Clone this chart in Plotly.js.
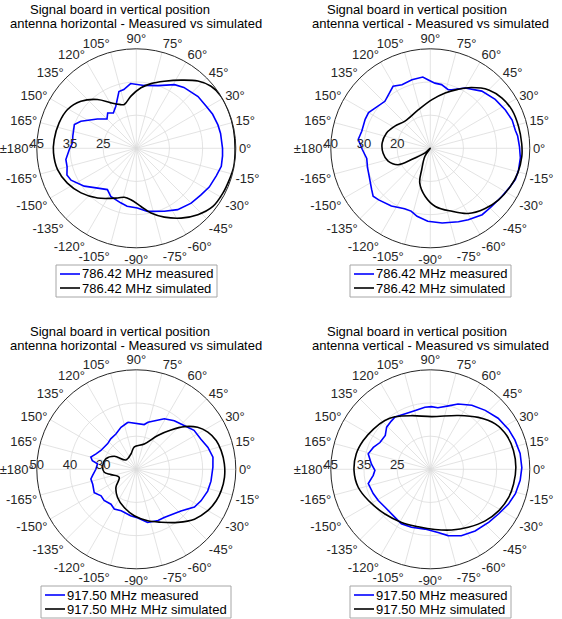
<!DOCTYPE html>
<html>
<head>
<meta charset="utf-8">
<script src="https://cdn.plot.ly/plotly-3.0.1.min.js"></script>
<style>html,body{margin:0;padding:0;background:#fff}#chart{width:562px;height:619px}</style>
</head>
<body>
<div id="chart"></div>
<script>
// ---------- Data (dB values) ----------
const titleLine1 = "Signal board in vertical position";
const titles2 = ["antenna horizontal - Measured vs simulated", "antenna vertical - Measured vs simulated",
                 "antenna horizontal - Measured vs simulated", "antenna vertical - Measured vs simulated"];
const measuredNames = ["786.42 MHz measured", "786.42 MHz measured", "917.50 MHz measured", "917.50 MHz measured"];
const simulatedNames = ["786.42 MHz simulated", "786.42 MHz simulated", "917.50 MHz MHz simulated", "917.50 MHz simulated"];
const rRanges = [[15, 45], [10, 40], [20, 50], [15, 45]];
const rTicks = [[25, 35, 45], [20, 30, 40], [30, 40, 50], [25, 35, 45]];
const angleTicks = [0,15,30,45,60,75,90,105,120,135,150,165,180,195,210,225,240,255,270,285,300,315,330,345];
const angleLabels = ["0°","15°","30°","45°","60°","75°","90°","105°","120°","135°","150°","165°","±180°",
                     "-165°","-150°","-135°","-120°","-105°","-90°","-75°","-60°","-45°","-30°","-15°"];

// Plot 1: 786.42 MHz, antenna horizontal
const meas1Theta = [0,-5,-12,-19,-28,-36,-45,-56,-66,-80,-89,-99,-106,-118,-125,-134,-144,-154,-159,-165,-171,-179,175,169,159,154,143,135,129,123,116,107,102,95,83,71,59,52,40,31,24,16,10,0];
const meas1R = [41.0,41.1,41.2,40.5,39.9,39.0,38.4,37.3,35.8,34.3,33.0,32.7,32.1,31.4,30.2,31.7,34.4,36.9,37.4,36.6,36.5,35.2,34.3,34.5,35.0,33.6,29.7,27.5,28.7,27.7,29.1,32.9,33.1,34.6,34.1,35.0,37.4,38.3,39.3,39.6,40.2,40.6,40.8,41.0];
const sim1Theta = [0,-10.5,-18.6,-27.4,-37.2,-47.2,-57.3,-67.8,-77.2,-85.4,-96,-103.8,-110.6,-127.9,-141.1,-153.2,-164.8,-176.8,174,161.8,150.6,139.7,128.5,119.2,111.3,105.4,95.9,85.6,77.2,67.3,56.7,47.5,39.7,31.6,20.8,10.9,0];
const sim1R = [44.8,44.9,44.6,44.4,44.0,42.3,40.0,37.4,35.0,32.6,30.6,30.2,31.0,34.0,36.4,38.3,39.6,40.0,39.9,39.5,38.8,36.9,33.8,30.7,29.2,28.7,30.8,33.3,35.0,36.9,39.6,42.5,44.3,45.0,45.0,44.9,44.8];

// Plot 2: 786.42 MHz, antenna vertical
const meas2Theta = [70,60,48,37,27,19,12,8,1,-6,-14,-20,-26,-34,-43,-52,-62,-69,-81,-92,-101,-107,-113,-124,-135,-140,-145,-153,-163,-171,-179,173,166,156,150,144,134,121,114,105,96,92,86,80,73,70];
const meas2R = [28.8,31.0,33.2,34.5,35.4,36.1,36.2,36.6,36.9,37.3,37.4,37.3,36.7,36.0,35.5,35.4,34.4,33.7,32.8,32.0,30.9,29.8,29.8,31.0,32.0,32.5,31.6,30.5,29.8,29.4,30.5,31.9,31.3,31.5,31.5,30.6,29.7,31.8,31.0,31.4,31.6,30.7,29.7,29.5,28.5,28.8];
const sim2Theta = [-125,-124,-112,-107,-96,-85,-71,-60,-48,-37,-26,-16,-5,3,14,25,35,45,56,65,75,88,107,133,148,161,174,-174,-163,-153,-149,-139,-135];
const sim2R = [10,12.9,16.9,20.9,24.6,27.6,30.1,32.7,34.5,35.8,36.7,37.4,37.7,37.6,37.4,37.2,36.4,34.9,32.1,29.6,27.3,24.7,22.2,21.2,22.6,24.0,24.6,24.3,23.3,20.9,16.6,12.1,10];

// Plot 3: 917.50 MHz, antenna horizontal
const meas3Theta = [100,80,76,61,52,42,34,25,17,9,1.5,-9,-17,-26,-33,-43,-60,-67,-78,-88,-97,-110,-119,-126,-136,-143,-151,-161,-168,-172,180,172,169,165,159,152,138,130,120,110,100];
const meas3R = [34.4,33.7,34.6,37.4,38.6,39.6,41.0,41.5,42.6,43.4,43.1,42.8,42.5,41.7,40.9,38.4,36.8,36.8,36.4,34.7,34.1,33.3,33.7,33.0,33.5,33.3,34.5,33.9,34.0,33.3,32.2,31.8,33.5,34.2,33.0,32.1,31.6,32.0,32.3,33.5,34.4];
const sim3Theta = [95,72.5,57.6,48.6,41.6,34.4,27.4,19.8,12.4,3.5,-5.2,-14.1,-21.5,-30.1,-40.6,-52,-65,-77.5,-92.5,-107.5,-123.7,-138.5,-154.8,-168.1,-174.6,173.8,161.2,149.4,137.9,109.2,95];
const sim3R = [26.8,28.0,32.1,35.8,39.4,42.4,44.3,45.6,46.2,46.6,46.7,46.4,45.9,44.9,43.1,40.3,37.6,35.9,34.0,32.1,30.2,28.2,25.7,27.8,29.7,30.2,29.7,27.7,24.2,24.9,26.8];

// Plot 4: 917.50 MHz, antenna vertical
const meas4Theta = [124,115,105,95,89,83,74,67,57,47,37,27,19,10,1,-7,-16,-24,-33,-42,-54,-65,-75,-83,-95,-108,-118,-126,-140,-149,-157,-167,-174,-179,175,166,159,152,143,136,129,124];
const meas4R = [34.0,33.4,33.3,33.8,33.9,33.7,34.9,36.4,38.0,39.3,40.6,41.5,42.0,42.5,42.6,42.3,41.7,40.8,39.6,38.8,38.0,37.1,35.7,34.2,33.1,33.4,33.6,33.0,32.8,33.3,33.7,34.2,32.3,31.7,32.8,34.3,33.4,32.2,32.0,33.3,33.7,34.0];
const sim4Theta = [124,109,88.5,62.4,47.3,35,23.8,12.7,1.3,-10,-19.7,-31.3,-43.2,-56.8,-70.6,-85.6,-101.8,-118.4,-135.4,-153.2,-166,-179,168.2,156.8,144.7,133,124];
const sim4R = [34.1,32.1,30.9,33.3,36.3,38.9,40.2,40.7,40.8,40.5,40.1,39.1,37.7,35.9,34.4,33.2,32.7,33.2,34.2,35.9,37.4,38.0,37.8,37.0,36.0,35.1,34.1];

// ---------- Build ----------
const FONT = "Liberation Sans, Arial, Helvetica, sans-serif";
const MEAS_COLOR = "#0000ff", SIM_COLOR = "#000000";
const measTheta = [meas1Theta, meas2Theta, meas3Theta, meas4Theta];
const measR = [meas1R, meas2R, meas3R, meas4R];
const simTheta = [sim1Theta, sim2Theta, sim3Theta, sim4Theta];
const simR = [sim1R, sim2R, sim3R, sim4R];

const W = 562, H = 619, RAD = 99.5;
const centers = [[136.3, 148.3], [430.3, 148.3], [136.3, 469.3], [430.3, 469.3]];
// legend boxes [left, right, top, bottom] in page pixels
const legendBoxes = [[56, 217, 265, 297], [350, 511, 265, 297], [41, 231, 586, 618], [350, 511, 586, 618]];
const title1Pos = [[120, 10], [417, 10], [120, 331], [417, 331]];
const title2Pos = [[136, 24], [430, 24], [136, 345], [430, 345]];

const px = x => x / W, py = y => 1 - y / H;
const data = [];
const layout = {
  width: W, height: H, margin: {l: 0, r: 0, t: 0, b: 0, pad: 0, autoexpand: false},
  paper_bgcolor: "#fff", font: {family: FONT, size: 13, color: "#000"},
  showlegend: false, annotations: [], shapes: []
};

for (let i = 0; i < 4; i++) {
  const pk = i === 0 ? "polar" : "polar" + (i + 1);
  data.push({type: "scatterpolar", mode: "lines", subplot: pk, name: measuredNames[i],
    theta: measTheta[i], r: measR[i], line: {color: MEAS_COLOR, width: 1.6}});
  data.push({type: "scatterpolar", mode: "lines", subplot: pk, name: simulatedNames[i],
    theta: simTheta[i], r: simR[i], line: {color: SIM_COLOR, width: 1.6, shape: "spline", smoothing: 1}});
  const [cx, cy] = centers[i];
  layout[pk] = {
    domain: {x: [px(cx - RAD), px(cx + RAD)], y: [py(cy + RAD), py(cy - RAD)]},
    bgcolor: "rgba(0,0,0,0)",
    angularaxis: {rotation: 0, direction: "counterclockwise", tickmode: "array",
      tickvals: angleTicks, ticktext: angleLabels, ticks: "", showline: true,
      linecolor: "#262626", linewidth: 1, gridcolor: "#dcdcdc", gridwidth: 0.8,
      tickfont: {family: FONT, size: 13, color: "#262626"}},
    radialaxis: {range: rRanges[i], tickmode: "array", tickvals: rTicks[i], angle: 180, tickangle: 180,
      side: "clockwise", showline: false, ticks: "", gridcolor: "#dcdcdc", gridwidth: 0.8,
      tickfont: {family: FONT, size: 13, color: "#262626"}}
  };

  // Legend box (one per subplot, as in the reference)
  const [lx0, lx1, ly0, ly1] = legendBoxes[i];
  layout.shapes.push({type: "rect", xref: "paper", yref: "paper", x0: px(lx0), x1: px(lx1), y0: py(ly1), y1: py(ly0),
    line: {color: "#a6a6a6", width: 1}, fillcolor: "#fff", layer: "above"});
  const rows = [[measuredNames[i], MEAS_COLOR], [simulatedNames[i], SIM_COLOR]];
  rows.forEach(([name, color], k) => {
    const yy = ly0 + 9 + 14 * k;
    layout.shapes.push({type: "line", xref: "paper", yref: "paper", x0: px(lx0 + 4), x1: px(lx0 + 24),
      y0: py(yy), y1: py(yy), line: {color: color, width: 1.6}, layer: "above"});
    layout.annotations.push({xref: "paper", yref: "paper", x: px(lx0 + 25), y: py(yy), text: name,
      showarrow: false, xanchor: "left", yanchor: "middle", borderpad: 0,
      font: {family: FONT, size: 13, color: "#000"}});
  });

  layout.annotations.push({xref: "paper", yref: "paper", x: px(title1Pos[i][0]), y: py(title1Pos[i][1]),
    text: titleLine1, showarrow: false, xanchor: "center", yanchor: "middle", borderpad: 0,
    font: {family: FONT, size: 13, color: "#000"}});
  layout.annotations.push({xref: "paper", yref: "paper", x: px(title2Pos[i][0]), y: py(title2Pos[i][1]),
    text: titles2[i], showarrow: false, xanchor: "center", yanchor: "middle", borderpad: 0,
    font: {family: FONT, size: 13, color: "#000"}});
}

Plotly.newPlot("chart", data, layout, {displayModeBar: false, staticPlot: true});
</script>
</body>
</html>
